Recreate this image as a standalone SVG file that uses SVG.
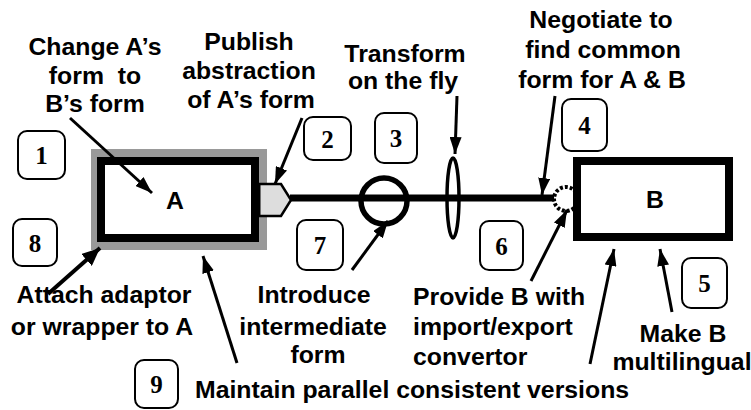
<svg xmlns="http://www.w3.org/2000/svg" width="751" height="410" viewBox="0 0 751 410">
  <style>
    .lbl { font-family: "Liberation Sans", Arial, sans-serif; font-weight: bold; font-size: 24.8px; fill: #000; }
    .mid { text-anchor: middle; }
    .num rect { fill: #fff; stroke: #000; stroke-width: 2; }
    .num text { font-family: "Liberation Serif", "Times New Roman", serif; font-weight: bold; font-size: 25px; text-anchor: middle; fill: #000; }
    .arrow { stroke: #000; stroke-width: 3; fill: none; marker-end: url(#head); }
    .big { stroke-width: 4; marker-end: url(#headBig); }
  </style>
  <defs>
    <marker id="head" markerUnits="userSpaceOnUse" markerWidth="19" markerHeight="12" refX="17" refY="6" orient="auto">
      <path d="M0,0 L17,6 L0,12 z" fill="#000"/>
    </marker>
    <marker id="headBig" markerUnits="userSpaceOnUse" markerWidth="20" markerHeight="16" refX="18" refY="8" orient="auto">
      <path d="M0,0 L18,8 L0,16 z" fill="#000"/>
    </marker>
  </defs>

  <rect width="751" height="410" fill="#fff"/>

  <!-- wrapped system A -->
  <g id="nodeA">
    <rect x="91" y="149" width="176" height="101" fill="#999"/>
    <rect x="101" y="161" width="154" height="77" fill="#fff" stroke="#000" stroke-width="8"/>
    <text class="lbl mid" x="175" y="209" font-size="21">A</text>
  </g>

  <!-- published interface plug on A -->
  <g id="plug">
    <polygon points="258,184 281,184 291,200 281,216 258,216" fill="#ddd" stroke="#000" stroke-width="2.5"/>
    <line x1="259" y1="183" x2="259" y2="217" stroke="#000" stroke-width="3"/>
  </g>

  <g id="connectors">
    <line x1="290" y1="198" x2="570" y2="198" stroke="#000" stroke-width="7"/>
  </g>

  <!-- intermediate form -->
  <g id="intermediate">
    <circle cx="384" cy="201" r="23" fill="none" stroke="#000" stroke-width="5.5"/>
  </g>

  <!-- on-the-fly transformer -->
  <g id="lens">
    <ellipse cx="453" cy="198" rx="6" ry="40" fill="none" stroke="#000" stroke-width="3.5"/>
  </g>

  <!-- import/export convertor on B -->
  <g id="convertor">
    <circle cx="566" cy="199" r="12" fill="#fff" stroke="#000" stroke-width="4" stroke-dasharray="3 2"/>
  </g>

  <!-- system B -->
  <g id="nodeB">
    <rect x="577" y="161" width="152" height="76" fill="#fff" stroke="#000" stroke-width="8"/>
    <text class="lbl mid" x="655" y="208" font-size="21">B</text>
  </g>

  <!-- numbered approaches -->
  <g id="n1" class="num"><rect x="18" y="131" width="47" height="48" rx="9"/><text x="41.5" y="164">1</text></g>
  <g id="n2" class="num"><rect x="304" y="117" width="47" height="43" rx="9"/><text x="327.5" y="148">2</text></g>
  <g id="n3" class="num"><rect x="375" y="113" width="42" height="50" rx="9"/><text x="396" y="147">3</text></g>
  <g id="n4" class="num"><rect x="562" y="99" width="45" height="52" rx="9"/><text x="584.5" y="134">4</text></g>
  <g id="n5" class="num"><rect x="682" y="258" width="45" height="50" rx="9"/><text x="704.5" y="292">5</text></g>
  <g id="n6" class="num"><rect x="480" y="221" width="43" height="49" rx="9"/><text x="501.5" y="255">6</text></g>
  <g id="n7" class="num"><rect x="297" y="220" width="46" height="50" rx="9"/><text x="320" y="254">7</text></g>
  <g id="n8" class="num"><rect x="13" y="219" width="44" height="47" rx="9"/><text x="35" y="252">8</text></g>
  <g id="n9" class="num"><rect x="135" y="360" width="43" height="48" rx="9"/><text x="156.5" y="393">9</text></g>

  <!-- pointer arrows -->
  <g id="pointers">
    <line class="arrow" x1="70" y1="118" x2="152" y2="193"/>
    <line class="arrow" x1="302" y1="118" x2="275" y2="184"/>
    <line class="arrow" x1="457" y1="96" x2="455" y2="154"/>
    <line class="arrow" x1="555" y1="96" x2="542" y2="195"/>
    <line class="arrow" x1="672" y1="312" x2="660" y2="249"/>
    <line class="arrow" x1="531" y1="281" x2="567" y2="210"/>
    <line class="arrow" x1="352" y1="270" x2="388" y2="221"/>
    <line class="arrow big" x1="48" y1="294" x2="100" y2="248"/>
    <line class="arrow" x1="237" y1="363" x2="203" y2="256"/>
    <line class="arrow" x1="590" y1="364" x2="614" y2="249"/>
  </g>

  <!-- captions -->
  <g id="captions" class="lbl">
    <text class="mid" x="95" y="55">Change A’s</text>
    <text class="mid" x="95" y="84" xml:space="preserve">form  to</text>
    <text class="mid" x="95" y="112">B’s form</text>

    <text class="mid" x="249" y="50">Publish</text>
    <text class="mid" x="249" y="79">abstraction</text>
    <text class="mid" x="251" y="108">of A’s form</text>

    <text class="mid" x="405" y="62">Transform</text>
    <text class="mid" x="403" y="89">on the fly</text>

    <text class="mid" x="601" y="28">Negotiate to</text>
    <text class="mid" x="603" y="58">find common</text>
    <text class="mid" x="602" y="88">form for A &amp; B</text>

    <text class="mid" x="104" y="303">Attach adaptor</text>
    <text class="mid" x="102" y="335">or wrapper to A</text>

    <text class="mid" x="314" y="303">Introduce</text>
    <text class="mid" x="313" y="335">intermediate</text>
    <text class="mid" x="318" y="363">form</text>

    <text x="413" y="305">Provide B with</text>
    <text x="413" y="335">import/export</text>
    <text x="413" y="365">convertor</text>

    <text class="mid" x="683" y="342">Make B</text>
    <text class="mid" x="682" y="370">multilingual</text>

    <text x="195" y="398">Maintain parallel consistent versions</text>
  </g>
</svg>
